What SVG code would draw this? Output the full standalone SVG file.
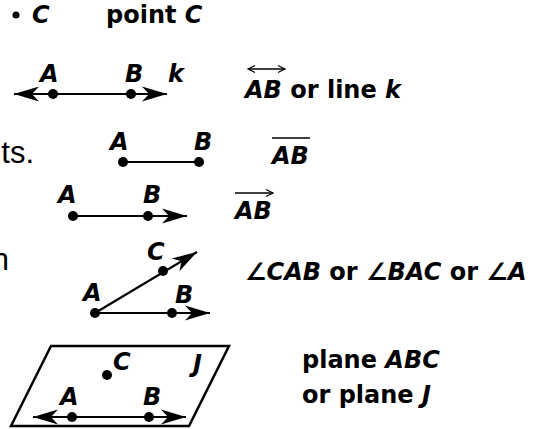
<svg xmlns="http://www.w3.org/2000/svg" width="544" height="429" viewBox="0 0 544 429">
<defs>
<style>
.t{font-family:"DejaVu Sans","Liberation Sans",sans-serif;font-weight:bold;font-size:24px;fill:#000}
.i{font-style:italic}
.r{font-family:"Liberation Sans",Arial,sans-serif;font-size:31px;fill:#000}
.ln{stroke:#000;stroke-width:2.2;fill:none}
.nt{stroke:#000;stroke-width:1.3;fill:none}
.pt{fill:#000}
</style>
<marker id="ah" viewBox="-26 -8 28 16" refX="0" refY="0" markerWidth="28" markerHeight="16" markerUnits="userSpaceOnUse" orient="auto-start-reverse">
<path d="M0,0 L-25,-7.5 L-18,0 L-25,7.5 Z" fill="#000"/>
</marker>
<marker id="sa" viewBox="-8 -5 10 10" refX="0" refY="0" markerWidth="10" markerHeight="10" markerUnits="userSpaceOnUse" orient="auto-start-reverse">
<path d="M-7,-3.5 L0,0 L-7,3.5" fill="none" stroke="#000" stroke-width="1.2"/>
</marker>
</defs>
<rect width="544" height="429" fill="#fff"/>

<g id="point">
<circle class="pt" cx="16" cy="15" r="3.5"/>
<text class="t i" x="32" y="23">C</text>
<text class="t" x="106" y="23">point <tspan class="i">C</tspan></text>
</g>

<g id="fragments">
<text class="r" x="34" y="163" text-anchor="end">ts.</text>
<text class="r" x="9" y="270" text-anchor="end">n</text>
</g>

<g id="connectors">
<line class="ln" x1="14" y1="94" x2="167" y2="94" marker-start="url(#ah)" marker-end="url(#ah)"/>
<line class="ln" x1="123" y1="162" x2="199" y2="162"/>
<line class="ln" x1="73" y1="216" x2="187" y2="216" marker-end="url(#ah)"/>
<line class="ln" x1="95" y1="313" x2="197" y2="252" marker-end="url(#ah)"/>
<line class="ln" x1="95" y1="313" x2="210" y2="313" marker-end="url(#ah)"/>
<line class="ln" x1="33" y1="417" x2="186" y2="417" marker-start="url(#ah)" marker-end="url(#ah)"/>
</g>

<g id="line">
<circle class="pt" cx="53" cy="94" r="5"/>
<circle class="pt" cx="131" cy="94" r="5"/>
<text class="t i" x="40" y="82">A</text>
<text class="t i" x="125" y="82">B</text>
<text class="t i" x="168" y="82">k</text>
<line class="nt" x1="248" y1="69" x2="285" y2="69" marker-start="url(#sa)" marker-end="url(#sa)"/>
<text class="t" x="245" y="98"><tspan class="i">AB</tspan> or line <tspan class="i">k</tspan></text>
</g>

<g id="segment">
<circle class="pt" cx="123" cy="162" r="5"/>
<circle class="pt" cx="199" cy="162" r="5"/>
<text class="t i" x="110" y="150">A</text>
<text class="t i" x="194" y="150">B</text>
<line class="nt" x1="272" y1="138" x2="310" y2="138"/>
<text class="t i" x="272" y="164">AB</text>
</g>

<g id="ray">
<circle class="pt" cx="73" cy="216" r="5"/>
<circle class="pt" cx="148" cy="216" r="5"/>
<text class="t i" x="58" y="203">A</text>
<text class="t i" x="143" y="203">B</text>
<line class="nt" x1="235" y1="193" x2="273" y2="193" marker-end="url(#sa)"/>
<text class="t i" x="235" y="219">AB</text>
</g>

<g id="angle">
<circle class="pt" cx="95" cy="313" r="5"/>
<circle class="pt" cx="163" cy="271" r="5"/>
<circle class="pt" cx="172" cy="313" r="5"/>
<text class="t i" x="147" y="260">C</text>
<text class="t i" x="83" y="301">A</text>
<text class="t i" x="175" y="303">B</text>
<text class="t" x="245" y="280"><tspan class="i">∠CAB</tspan> or <tspan class="i">∠BAC</tspan> or <tspan class="i">∠A</tspan></text>
</g>

<g id="plane">
<path d="M51,346 L229,346 L189,426 L11,426 Z" fill="none" stroke="#000" stroke-width="2.5" stroke-linejoin="miter"/>
<circle class="pt" cx="107" cy="375" r="5"/>
<circle class="pt" cx="72" cy="417" r="5"/>
<circle class="pt" cx="149" cy="417" r="5"/>
<text class="t i" x="113" y="370">C</text>
<text class="t i" x="193" y="372">J</text>
<text class="t i" x="60" y="405">A</text>
<text class="t i" x="143" y="405">B</text>
<text class="t" x="302" y="368">plane <tspan class="i">ABC</tspan></text>
<text class="t" x="302" y="403">or plane <tspan class="i">J</tspan></text>
</g>
</svg>
